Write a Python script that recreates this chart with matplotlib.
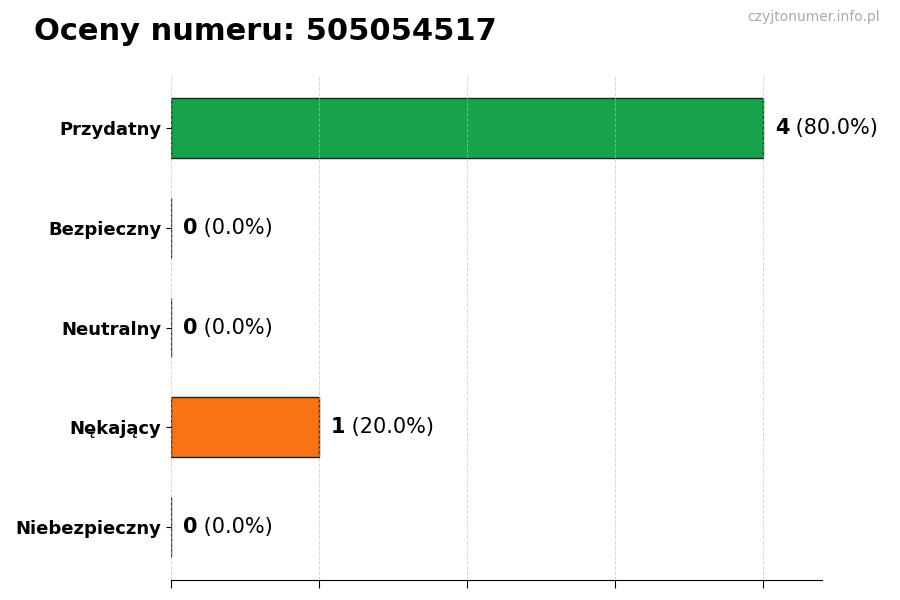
import matplotlib
matplotlib.use('Agg')
import matplotlib.pyplot as plt

# data
categories = ['Przydatny', 'Bezpieczny', 'Neutralny', 'Nękający', 'Niebezpieczny']
counts = [4, 0, 0, 1, 0]
colors = ['#16a34a', '#2563eb', '#9ca3af', '#f97316', '#dc2626']
number = '505054517'

total = sum(counts)

fig = plt.figure(figsize=(9, 6), dpi=100)
ax = fig.add_axes([0.19, 0.0333, 0.7233, 0.8417])

ypos = list(range(len(categories)))
ax.barh(ypos, counts, height=0.6, color=colors, edgecolor='#222222', linewidth=1, zorder=2)
ax.invert_yaxis()
ax.set_yticks(ypos)
ax.set_yticklabels(categories, fontsize=13, fontweight='bold')
ax.set_xlim(0, 4.4)
ax.set_xticks(range(0, 5))
ax.set_xticklabels([])
ax.tick_params(axis='x', length=6)
# grid sits on top of the bars, faint
ax.set_axisbelow(False)
ax.grid(axis='x', linestyle='--', color='#bbbbbb', linewidth=0.7, alpha=0.6)

for s in ['top', 'right', 'left']:
    ax.spines[s].set_visible(False)

#value labels: bold count + normal percentage
for y, c in zip(ypos, counts):
    pct = c / total * 100 if total else 0
    t = ax.text(c + 0.08, y, str(c), fontsize=15, fontweight='bold', va='center', ha='left')
    ax.annotate(' (%.1f%%)' % pct, xy=(1, 0), xycoords=t, va='bottom', ha='left', fontsize=15)

fig.text(0.038, 0.948, 'Oceny numeru: ' + number, fontsize=22, fontweight='bold', va='center', ha='left')
fig.text(0.978, 0.971, 'czyjtonumer.info.pl', fontsize=10, color='#aaaaaa', va='center', ha='right')

fig.savefig('out.png', dpi=100)
